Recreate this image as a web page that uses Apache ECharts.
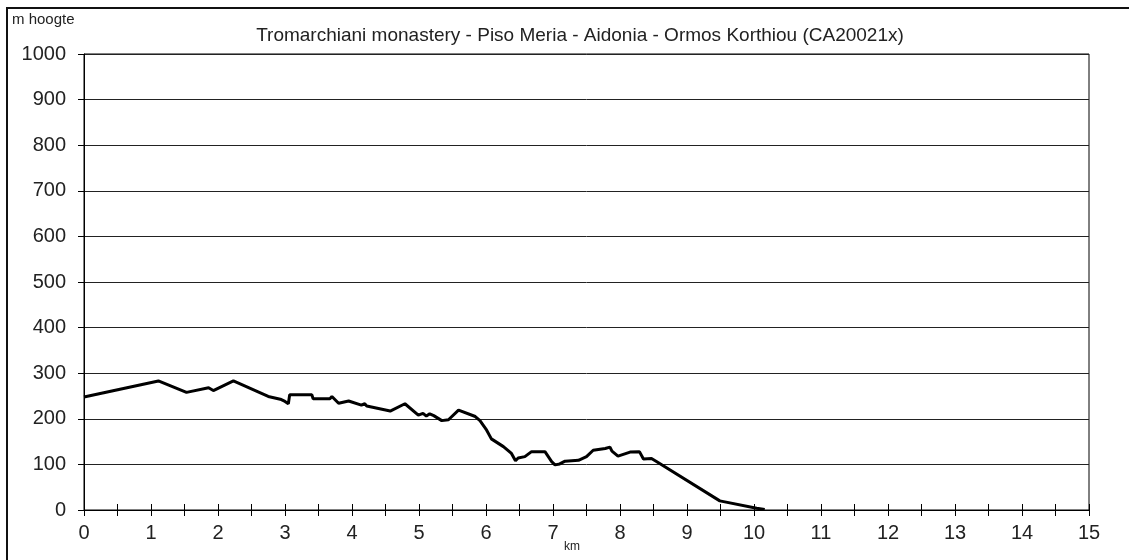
<!DOCTYPE html>
<html>
<head>
<meta charset="utf-8">
<script src="https://cdn.jsdelivr.net/npm/echarts@6/dist/echarts.min.js"></script>
<style>
html,body{margin:0;padding:0;background:#fff;}
#c{width:1129px;height:560px;}
</style>
</head>
<body>
<div id="c"></div>
<script>
const titleText = 'Tromarchiani monastery - Piso Meria - Aidonia - Ormos Korthiou (CA20021x)';
const yAxisName = 'm hoogte';
const xAxisName = 'km';
const distKm = [0,1.11,1.53,1.86,1.93,2.23,2.75,2.93,3.0,3.05,3.07,3.40,3.42,3.67,3.70,3.80,3.95,4.14,4.19,4.22,4.57,4.79,4.99,5.06,5.11,5.16,5.22,5.34,5.44,5.59,5.84,5.91,6.01,6.08,6.26,6.38,6.44,6.48,6.58,6.68,6.88,6.98,7.03,7.10,7.18,7.38,7.50,7.60,7.78,7.85,7.88,7.97,8.15,8.29,8.35,8.47,8.55,9.49,10.04,10.16];
const heightM = [248,283,258,268,262,283,249,243,238,233,253,253,244,244,249,234,239,230,233,228,217,233,208,212,206,211,207,196,198,219,205,196,175,156,139,124,108,114,117,128,128,106,99,101,107,109,117,131,135,138,129,118,127,128,112,113,106,20,4,1];

const chart = echarts.init(document.getElementById('c'));
const font = 'Liberation Sans, Arial, sans-serif';
const txt = '#222';
chart.setOption({
  animation: false,
  backgroundColor: '#fff',
  graphic: [
    {type:'rect', shape:{x:7,y:8,width:1200,height:600}, style:{fill:'none', stroke:'#111', lineWidth:2}, z:0},
    {type:'text', left:12, top:12, style:{text:yAxisName, font:'15px '+font, fill:txt}},
    {type:'text', left:564, top:541, style:{text:xAxisName, font:'12px '+font, fill:txt}}
  ],
  title: {
    text: titleText, left: 575, top: 21, textAlign: 'center',
    textStyle: {fontFamily: font, fontSize: 19, fontWeight: 'normal', color: txt}
  },
  grid: {left:84, right:40, top:54, bottom:50, show:true, borderColor:'#000', borderWidth:1, backgroundColor:'#fff'},
  xAxis: [{
    type:'value', min:0, max:15, interval:0.5,
    axisLine:{show:true, lineStyle:{color:'#000', width:1}},
    axisTick:{show:true, length:6, lineStyle:{color:'#000'}},
    axisLabel:{margin:13, fontFamily:font, fontSize:20, color:txt, formatter: v => Number.isInteger(v) ? String(v) : ''},
    splitLine:{show:false}
  },{
    type:'value', min:0, max:15, interval:0.5, position:'bottom',
    axisLine:{show:false},
    axisTick:{show:true, inside:true, length:6, lineStyle:{color:'#000'}},
    axisLabel:{show:false},
    splitLine:{show:false}
  }],
  yAxis: {
    type:'value', min:0, max:1000, interval:100,
    axisLine:{show:true, lineStyle:{color:'#000', width:1}},
    axisTick:{show:true, length:6, lineStyle:{color:'#000'}},
    axisLabel:{margin:18, fontFamily:font, fontSize:20, color:txt, formatter: v => String(v)},
    splitLine:{show:true, lineStyle:{color:'#222', width:1}}
  },
  series: [{
    type:'line', xAxisIndex:0,
    data: distKm.map((d,i)=>[d, heightM[i]]),
    showSymbol:false, symbol:'none',
    lineStyle:{color:'#000', width:3}, z:5
  }]
});
</script>
</body>
</html>
